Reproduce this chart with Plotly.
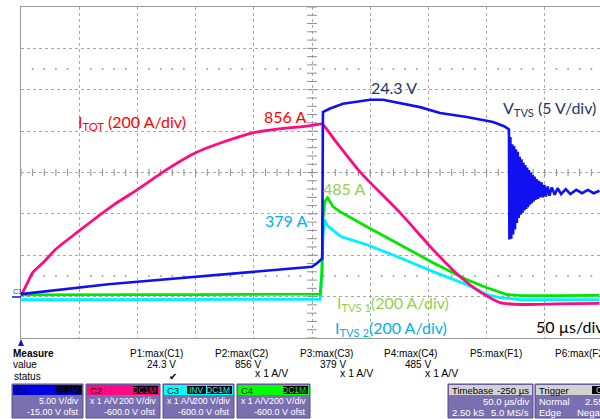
import plotly.graph_objects as go

# ---------------- data ----------------
# time in microseconds from the left edge of the screen (50 us/div)
t_itot = [0, 5, 10, 20, 30, 49, 68, 80, 100, 125, 150, 175, 199, 220, 240, 252, 258.6,
          270, 289.5, 300, 325.6, 354, 377, 394, 411.5, 430, 460, 497]
a_itot = [5, 60, 116, 170, 230, 314, 396, 445, 517, 614, 696, 750, 792, 810, 821, 830, 835,
          753, 614, 551, 406, 227, 97, 24, -29, -38, -35, -33]

t_vtvs = [0, 25, 49, 75, 100, 125, 150, 175, 199, 225, 240, 250, 254, 257, 258.8, 259.4,
          265, 276.6, 290, 300, 311, 325.6, 342.8, 360, 383, 405.5, 415, 419.2,
          419.6, 420.4, 421.2, 422.0, 422.8, 423.6, 424.4, 425.2, 426.0, 426.8, 427.6,
          428.4, 429.2, 430.0, 430.8, 431.6, 432.4, 433.2, 434.0, 434.8, 435.6, 436.4,
          437.2, 438.0, 438.8, 439.6, 440.4, 441.2, 442.0, 443.0, 444.0, 445.0, 446.0,
          447.2, 448.4, 449.6, 451.0, 452.5, 454.0, 456.0, 458.5, 461, 464, 468, 472,
          477, 482, 487, 492, 497]
v_vtvs = [0.3, 0.7, 1.1, 1.5, 1.8, 2.1, 2.4, 2.7, 3.0, 3.3, 3.5, 3.6, 4.0, 4.4, 4.6, 22.3,
          22.7, 23.3, 23.6, 23.8, 23.8, 23.4, 22.9, 22.2, 21.7, 21.1, 20.6, 20.2,
          6.9, 19.3, 7.0, 18.4, 7.5, 18.2, 8.1, 17.8, 8.9, 17.5, 9.5,
          16.9, 9.9, 16.6, 10.1, 16.2, 10.4, 15.9, 10.6, 15.6, 10.8, 15.3,
          11.1, 15.0, 11.3, 14.7, 11.5, 14.5, 11.7, 14.2, 11.8, 14.0, 12.0,
          13.8, 12.0, 13.5, 12.1, 13.3, 12.2, 13.2, 12.3, 13.1, 12.4, 13.0, 12.4,
          12.9, 12.5, 12.9, 12.5, 12.8]

t_itvs1 = [0, 50, 100, 150, 200, 250, 257, 258.5, 259.5, 261, 263.4, 268, 274, 297.2,
           325.6, 354, 383, 400.3, 417.5, 430, 460, 497]
a_itvs1 = [8, 10, 10, 10, 10, 10, 12, 120, 380, 460, 478, 435, 411, 338,
           251, 164, 82, 43, 10, 5, 5, 6]

t_itvs2 = [0, 50, 100, 150, 200, 250, 257, 258.5, 259.5, 260.8, 263, 266, 275, 297.2,
           325.6, 354, 383, 400.3, 411.5, 430, 460, 497]
a_itvs2 = [-15, -15, -15, -15, -15, -15, -13, 100, 300, 372, 345, 330, 290, 251,
           188, 121, 58, 10, -5, -15, -15, -15]

VOLT_PER_DIV = 5.0      # C1
AMP_PER_DIV = 200.0     # C2, C3, C4
OFFSET_DIV = -3.0       # -15 V ofst / -600 A ofst

measure_names = ["P1:max(C1)", "P2:max(C2)", "P3:max(C3)", "P4:max(C4)", "P5:max(F1)", "P6:max(F2)"]
measure_values = ["24.3 V", "856 V", "379 V", "485 V", "", ""]
measure_units = ["", "x 1 A/V", "x 1 A/V", "x 1 A/V", "", ""]

# ---------------- geometry helpers ----------------
W, H = 600, 419
L, T, R, B = 21, 7, 0, 81
PW, PH = W - L - R, H - T - B
X_END = PW / 58.2 * 50.0   # visible time span


def px(x):
    return (x - L) / PW


def py(y):
    return (H - B - y) / PH


def to_div(vals, per_div):
    return [v / per_div + OFFSET_DIV for v in vals]


fig = go.Figure()

# minor tick marks on the centre cross-hair and dotted rows
tick_x = [i * 10 for i in range(0, 50)]
tick_y = [-4 + i * 0.2 for i in range(0, 41)]
fig.add_trace(go.Scatter(x=tick_x, y=[0] * len(tick_x), mode="markers", hoverinfo="skip",
                         marker=dict(symbol="line-ns", size=5, line=dict(width=1, color="#8c8c8c"))))
fig.add_trace(go.Scatter(x=[250] * len(tick_y), y=tick_y, mode="markers", hoverinfo="skip",
                         marker=dict(symbol="line-ew", size=7, line=dict(width=1, color="#8c8c8c"))))
dot_x = [v for v in tick_x if v % 50 != 0]
for yy in (2.5, -2.5):
    fig.add_trace(go.Scatter(x=dot_x, y=[yy] * len(dot_x), mode="markers", hoverinfo="skip",
                             marker=dict(size=2, color="#a0a0a0")))

# traces
fig.add_trace(go.Scatter(x=t_itvs2, y=to_div(a_itvs2, AMP_PER_DIV), mode="lines",
                         line=dict(color="#00f0ff", width=2.8)))
fig.add_trace(go.Scatter(x=t_itvs1, y=to_div(a_itvs1, AMP_PER_DIV), mode="lines",
                         line=dict(color="#00e800", width=2.8)))
fig.add_trace(go.Scatter(x=t_itot, y=to_div(a_itot, AMP_PER_DIV), mode="lines",
                         line=dict(color="#ff0a82", width=2.8, shape="spline", smoothing=0.5)))
fig.add_trace(go.Scatter(x=t_vtvs, y=to_div(v_vtvs, VOLT_PER_DIV), mode="lines",
                         line=dict(color="#1010f0", width=2.6)))

LBL = "Lato"
ann = []


def text(x, y, s, color, size, xanchor="left", family=LBL, bold=False):
    ann.append(dict(x=px(x), y=py(y), xref="paper", yref="paper", text=("<b>%s</b>" % s) if bold else s,
                    showarrow=False, xanchor=xanchor, yanchor="middle",
                    font=dict(color=color, size=size, family=family)))


# chart labels
text(76, 123, "I<sub>TOT</sub> (200 A/div)", "#ff0000", 16)
text(262, 116, "856 A", "#ff0000", 16)
text(369, 88, "24.3 V", "#1f3864", 16)
text(501, 108, "V<sub>TVS</sub> (5 V/div)", "#1f3864", 16)
text(263, 220, "379 A", "#00b0f0", 16)
text(321, 188, "485 A", "#92d050", 16)
text(335, 303, "I<sub>TVS 1</sub>(200 A/div)", "#92d050", 16)
text(333, 328, "I<sub>TVS 2</sub>(200 A/div)", "#00b0f0", 16)
text(534, 326, "50 µs/div", "#000000", 16)

# measure table
SF = "Liberation Sans"
text(11, 353, "Measure", "#000000", 10, family=SF, bold=True)
text(11, 364, "value", "#000000", 10, family=SF)
text(12, 376, "status", "#000000", 10, family=SF)
name_x = [156, 241, 326, 411, 496, 581]
for i, nm in enumerate(measure_names):
    text(name_x[i], 353, nm, "#000000", 10, xanchor="center", family=SF)
    if measure_values[i]:
        text(name_x[i] + 22, 364, measure_values[i], "#000000", 10, xanchor="right", family=SF)
    if measure_units[i]:
        text(name_x[i] + 49, 373, measure_units[i], "#000000", 10.5, xanchor="right", family=SF)
text(173, 376, "✔", "#000000", 10, xanchor="center", family="DejaVu Sans")

shapes = []


def rect(x0, y0, x1, y1, fill, line=None):
    shapes.append(dict(type="rect", xref="paper", yref="paper", x0=px(x0), x1=px(x1),
                       y0=py(y1), y1=py(y0), fillcolor=fill,
                       line=dict(width=1 if line else 0, color=line or fill), layer="above"))


BODY = "#7a6fb0"
BORDER = "#5a4f8e"
# channel boxes
boxes = [
    (12, 83, "#0000e0", "C1", ["DC1M"], "5.00 V/div", "", "-15.00 V ofst"),
    (86, 160, "#ff0a82", "C2", ["DC1M"], "200 V/div", "x 1 A/V", "-600.0 V ofst"),
    (163, 234, "#00ffff", "C3", ["INV", "DC1M"], "200 V/div", "x 1 A/V", "-600.0 V ofst"),
    (237, 310, "#00ff00", "C4", ["DC1M"], "200 V/div", "x 1 A/V", "-600.0 V ofst"),
]
for x0, x1, col, name, badges, vdiv, unit, ofst in boxes:
    rect(x0, 384, x1, 418, BODY, BORDER)
    rect(x0 + 1, 385, x1 - 1, 395, col)
    text(x0 + 2, 390, name, "#101010", 9.5, family=SF)
    bx = x1 - 2
    for bd in reversed(badges):
        wdt = 6 * len(bd) + 1
        rect(bx - wdt, 386, bx, 394, "#000000")
        text(bx - 0.5, 390, bd, col, 8.5, xanchor="right", family=SF)
        bx -= wdt + 1
    text(x1 - 2, 401, vdiv, "#ffffff", 8.8, xanchor="right", family=SF)
    if unit:
        text(x0 + 2, 401, unit, "#ffffff", 8.8, family=SF)
    text(x1 - 2, 412, ofst, "#ffffff", 9, xanchor="right", family=SF)

# timebase box
rect(448, 384, 533, 418, BODY, BORDER)
rect(449, 385, 532, 395, "#d2d2d2")
text(450, 390, "Timebase", "#000000", 9.5, family=SF)
text(531, 390, "-250 µs", "#000000", 9.5, xanchor="right", family=SF)
text(531, 401, "50.0 µs/div", "#ffffff", 9.5, xanchor="right", family=SF)
text(450, 412, "2.50 kS", "#ffffff", 9.5, family=SF)
text(531, 412, "5.0 MS/s", "#ffffff", 9.5, xanchor="right", family=SF)
# trigger box
rect(535, 384, 640, 418, BODY, BORDER)
rect(536, 385, 640, 395, "#d2d2d2")
text(537, 390, "Trigger", "#000000", 9.5, family=SF)
rect(592, 386, 604, 394, "#000000")
text(594, 390, "C", "#d2d2d2", 8.5, family=SF)
text(537, 401, "Normal", "#ffffff", 9.5, family=SF)
text(583, 401, "2.55 V", "#ffffff", 9.5, family=SF)
text(537, 412, "Edge", "#ffffff", 9.5, family=SF)
text(575, 412, "Negative", "#ffffff", 9.5, family=SF)

# ground marker and trigger marker
text(11, 291, "C1", "#1010d0", 7, family=SF)
shapes.append(dict(type="line", xref="paper", yref="paper", x0=px(12), x1=px(21), y0=py(297), y1=py(297),
                   line=dict(color="#1010d0", width=1.5)))
shapes.append(dict(type="path", xref="paper", yref="paper",
                   path="M %f,%f L %f,%f L %f,%f Z" % (px(18), py(346), px(24), py(346), px(21), py(339)),
                   fillcolor="#1010e0", line=dict(width=0)))

fig.update_layout(
    width=W, height=H, margin=dict(l=L, r=R, t=T, b=B, pad=0),
    paper_bgcolor="white", plot_bgcolor="white", showlegend=False,
    annotations=ann, shapes=shapes,
    xaxis=dict(range=[0, X_END], dtick=50, tick0=0, showticklabels=False, ticks="",
               showgrid=True, gridcolor="#a8a8a8", griddash="dot", gridwidth=1,
               zeroline=False, showline=True, linecolor="#9a9a9a", linewidth=1, mirror=True),
    yaxis=dict(range=[-4, 4], dtick=1, tick0=0, showticklabels=False, ticks="",
               showgrid=True, gridcolor="#a8a8a8", griddash="dot", gridwidth=1,
               zeroline=False, showline=True, linecolor="#9a9a9a", linewidth=1),
)

fig.write_html("out.html", config={"displayModeBar": False},
               post_script="document.body.style.margin='0';document.body.style.overflow='hidden';")
